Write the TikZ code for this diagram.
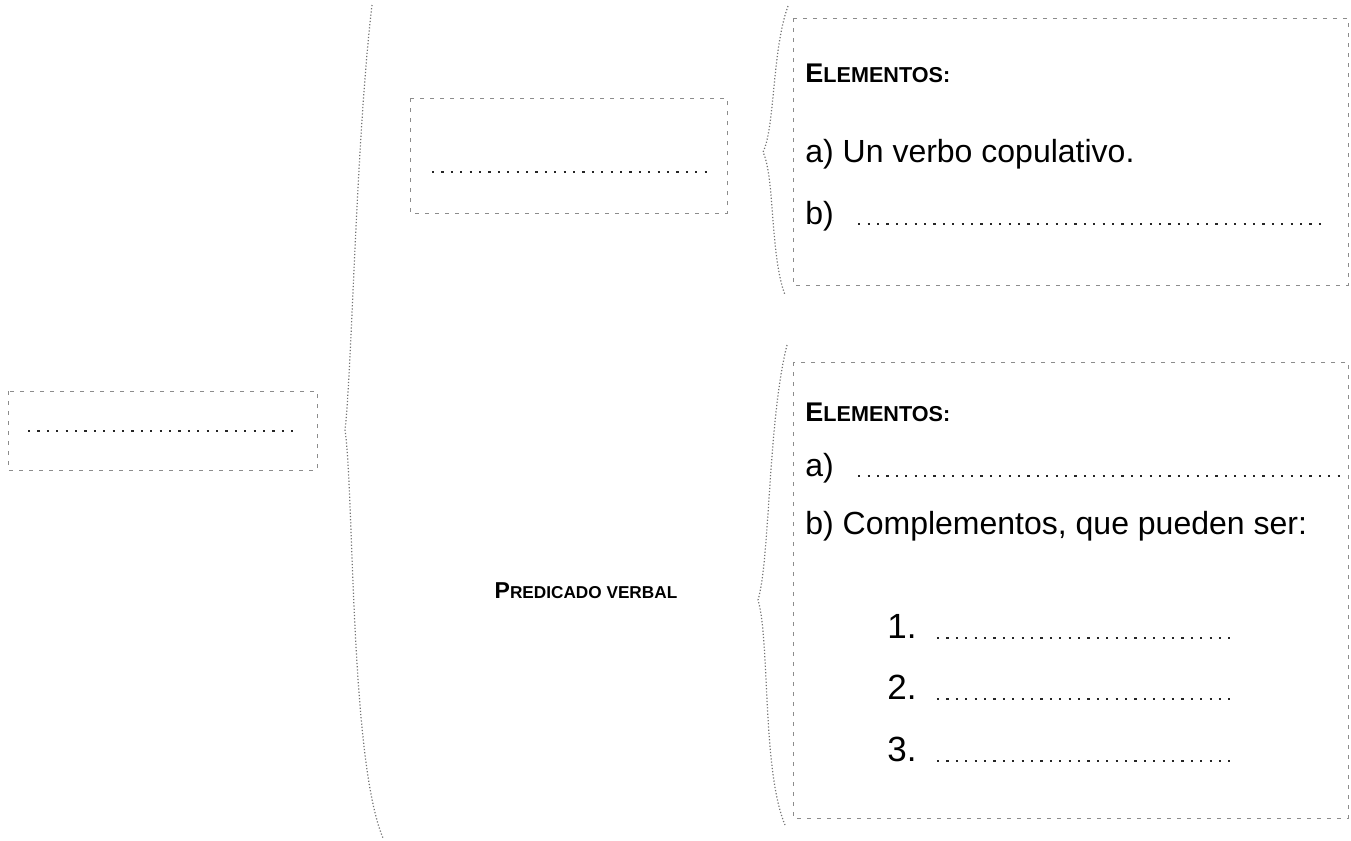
\documentclass[tikz,border=0pt]{standalone}
\usepackage{fontspec}
\setmainfont{Liberation Sans}
\begin{document}
\begin{tikzpicture}[x=0.5pt,y=-0.5pt,
  frame/.style={draw=black!45,line width=0.45pt,dash pattern=on 2pt off 3pt},
  filldots/.style={draw=black!85,line width=1.4pt,dash pattern=on 1.1pt off 3.6pt},
  bracel/.style={draw=black!55,line width=0.6pt,densely dotted},
  txt/.style={anchor=base west,inner sep=0pt,font=\fontsize{16}{18}\selectfont},
  num/.style={anchor=base west,inner sep=0pt,font=\fontsize{17.5}{20}\selectfont},
  head/.style={anchor=base west,inner sep=0pt,font=\bfseries},
]
\useasboundingbox (0,0) rectangle (1351,841);
% left box
\draw[frame] (8,391) rectangle (317,470);
\coordinate (l1) at (28,431); \coordinate (l2) at (300,431);
\draw[filldots] (l1) -- (l2);
% big brace
\coordinate (bb1) at (372,5); \coordinate (bbt) at (345,430); \coordinate (bb2) at (383,838);
\draw[bracel] (bb1) .. controls (356,140) and (352,370) .. (bbt)
  .. controls (354,490) and (350,760) .. (bb2);
% top middle box
\draw[frame] (410,98) rectangle (727,213);
\coordinate (m1) at (432,172); \coordinate (m2) at (707,172);
\draw[filldots] (m1) -- (m2);
% predicado verbal
\node[anchor=base,inner sep=0pt] (pv) at (586,598) {\bfseries\fontsize{11.5}{14}\selectfont P\fontsize{8.6}{10}\selectfont REDICADO VERBAL};
% top-right brace
\coordinate (tb1) at (788,6); \coordinate (tbt) at (763,152); \coordinate (tb2) at (785,295);
\draw[bracel] (tb1) .. controls (772,50) and (775,128) .. (tbt)
  .. controls (775,178) and (770,255) .. (tb2);
% top-right box
\draw[frame] (793,18) rectangle (1348,285);
\node[head] (e1) at (805,82) {\fontsize{13.5}{15}\selectfont E\fontsize{10.8}{12}\selectfont LEMENTOS:};
\node[txt] (ta) at (805,162) {a) Un verbo copulativo.};
\node[txt] (tb) at (805,224) {b)};
\coordinate (tbd) at (1328,224);
\draw[filldots] ([xshift=12]tb.base east) -- (tbd);
% bottom brace
\coordinate (cb1) at (787,345); \coordinate (cbt) at (758,600); \coordinate (cb2) at (785,825);
\draw[bracel] (cb1) .. controls (768,420) and (770,560) .. (cbt)
  .. controls (770,640) and (762,770) .. (cb2);
% bottom box
\draw[frame] (793,362) rectangle (1348,818);
\node[head] (e2) at (805,421) {\fontsize{13.5}{15}\selectfont E\fontsize{10.8}{12}\selectfont LEMENTOS:};
\node[txt] (ba) at (805,476) {a)};
\coordinate (bad) at (1345,476);
\draw[filldots] ([xshift=12]ba.base east) -- (bad);
\node[txt] (bb) at (805,534) {b) Complementos, que pueden ser:};
\node[num] (n1) at (887,638) {1.};
\node[num] (n2) at (887,699) {2.};
\node[num] (n3) at (887,761) {3.};
\coordinate (d1) at (1230,638); \coordinate (d2) at (1230,699); \coordinate (d3) at (1230,761);
\draw[filldots] ([xshift=10]n1.base east) -- (d1);
\draw[filldots] ([xshift=10]n2.base east) -- (d2);
\draw[filldots] ([xshift=10]n3.base east) -- (d3);
\end{tikzpicture}
\end{document}
